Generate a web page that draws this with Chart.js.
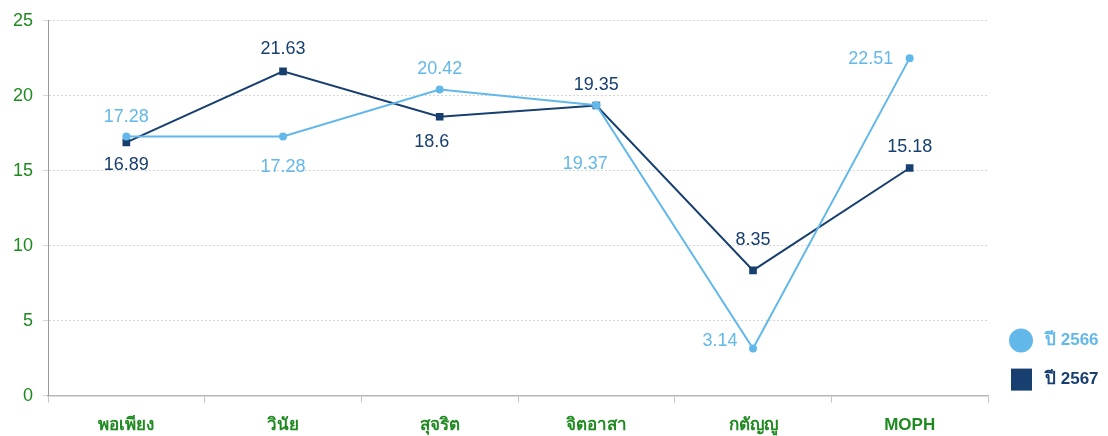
<!DOCTYPE html>
<html>
<head>
<meta charset="utf-8">
<script src="https://cdn.jsdelivr.net/npm/chart.js@4"></script>
<style>
  html, body { margin: 0; padding: 0; background: #fff; }
  #wrap { width: 1108px; height: 436px; }
</style>
</head>
<body>
<div id="wrap"><canvas id="valueChart"></canvas></div>
<script>
const categories = ['พอเพียง', 'วินัย', 'สุจริต', 'จิตอาสา', 'กตัญญู', 'MOPH'];
const values2566 = [17.28, 17.28, 20.42, 19.37, 3.14, 22.51];
const values2567 = [16.89, 21.63, 18.6, 19.35, 8.35, 15.18];
const yTicks = [0, 5, 10, 15, 20, 25];

const lightBlue = '#63b8ea';
const darkBlue = '#173f6f';
const green = '#1f8a1f';
const fontName = "'Liberation Sans', 'Noto Sans', sans-serif";

// ตำแหน่งป้ายตัวเลข (dx, dy) ของแต่ละจุด
const labelOffsets = [
  [[0, -20], [0, 30], [0, -20], [-11, 59], [-33, -7], [-39, 1]],
  [[0, 23], [0, -22], [-8, 25], [0, -20], [0, -30], [0, -21]],
];

const labelPlugin = {
  id: 'pointLabels',
  afterDatasetsDraw(chart) {
    const ctx = chart.ctx;
    ctx.save();
    ctx.font = '18px ' + fontName;
    ctx.textAlign = 'center';
    ctx.textBaseline = 'middle';
    chart.data.datasets.forEach((ds, i) => {
      const meta = chart.getDatasetMeta(i);
      ctx.fillStyle = ds.borderColor;
      meta.data.forEach((pt, j) => {
        const off = labelOffsets[i][j];
        ctx.fillText(String(ds.data[j]), pt.x + off[0], pt.y + off[1]);
      });
    });
    ctx.restore();
  }
};

const legendPlugin = {
  id: 'sideLegend',
  afterDraw(chart) {
    const ctx = chart.ctx;
    const a = chart.chartArea;
    const x = a.right + 33;
    ctx.save();
    ctx.font = 'bold 17px ' + fontName;
    ctx.textBaseline = 'middle';
    ctx.textAlign = 'left';
    // ปี 2566
    ctx.fillStyle = lightBlue;
    ctx.beginPath();
    ctx.arc(x, a.bottom - 55, 12, 0, Math.PI * 2);
    ctx.fill();
    ctx.fillText(chart.data.datasets[0].label, x + 24, a.bottom - 55);
    // ปี 2567
    ctx.fillStyle = darkBlue;
    ctx.fillRect(x - 10, a.bottom - 27, 21, 22);
    ctx.fillText(chart.data.datasets[1].label, x + 24, a.bottom - 16);
    ctx.restore();
  }
};

new Chart(document.getElementById('valueChart'), {
  type: 'line',
  data: {
    labels: categories,
    datasets: [
      {
        label: 'ปี 2566',
        data: values2566,
        borderColor: lightBlue,
        backgroundColor: lightBlue,
        borderWidth: 2,
        pointStyle: 'circle',
        pointRadius: 3,
        tension: 0,
      },
      {
        label: 'ปี 2567',
        data: values2567,
        borderColor: darkBlue,
        backgroundColor: darkBlue,
        borderWidth: 2,
        pointStyle: 'rect',
        pointRadius: 4,
        tension: 0,
      },
    ],
  },
  options: {
    responsive: true,
    maintainAspectRatio: false,
    animation: false,
    layout: { padding: { top: 16, right: 120, left: 3, bottom: -13 } },
    scales: {
      x: {
        offset: true,
        grid: {
          offset: true,
          drawOnChartArea: false,
          drawTicks: true,
          tickLength: 7,
          color: '#c4c4c4',
        },
        border: { color: '#b8b8b8', width: 1.5 },
        ticks: {
          color: green,
          font: { family: fontName, size: 17, weight: 'bold' },
          padding: 13,
        },
      },
      y: {
        min: 0,
        max: 25,
        afterBuildTicks(axis) {
          axis.ticks = yTicks.map(v => ({ value: v }));
        },
        grid: {
          color: '#d6d6d6',
          tickLength: 5,
          tickColor: '#d6d6d6',
        },
        border: { color: '#9a9a9a', dash: [2, 2] },
        ticks: {
          color: green,
          font: { family: fontName, size: 18 },
          padding: 10,
        },
      },
    },
    plugins: {
      legend: { display: false },
      tooltip: { enabled: false },
    },
  },
  plugins: [labelPlugin, legendPlugin],
});
</script>
</body>
</html>
